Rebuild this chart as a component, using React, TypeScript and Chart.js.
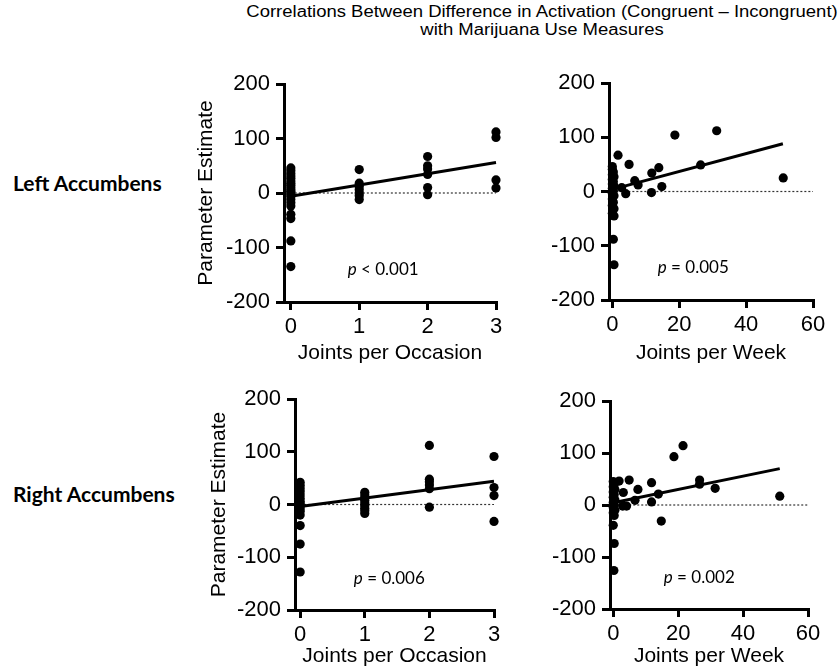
import React, { useEffect, useRef } from 'react';
import { Chart, registerables } from 'chart.js';

Chart.register(...registerables);

// ---------- data ----------
const yTicks = [-200, -100, 0, 100, 200];
const occasionTicks = [0, 1, 2, 3];
const weekTicks = [0, 20, 40, 60];

// Left Accumbens – Joints per Occasion
const leftOccX = [0, 0, 0, 0, 0, 0, 0, 0, 0, 0, 0, 0, 0, 0, 0, 0, 0, 0, 0, 0, 0,
  1, 1, 1, 1, 1, 1, 1,
  2, 2, 2, 2, 2, 2,
  3, 3, 3, 3];
const leftOccY = [46, 41, 36, 31, 27, 22, 18, 14, 10, 6, 3, 0, -3, -7, -12, -18, -24, -39, -47, -88, -135,
  43, 18, 12, 6, 0, -5, -12,
  67, 50, 44, 34, 10, -3,
  112, 102, 24, 9];
const leftOccLine = { x: [0, 3], y: [-6, 56] };

// Left Accumbens – Joints per Week
const leftWeekX = [0, 0, 0.3, 0, 0.5, 0, 0.3, 0, 0.5, 0, 0.3, 0, 0.5, 0, 0.3, 0, 0.5, 0, 0.5, 0.3, 0.5,
  1.7, 5, 2.8, 4, 6.7, 7.7, 11.8, 11.7, 13.9, 14.8, 18.7, 26.4, 31.2, 51.1];
const leftWeekY = [46, 41, 36, 31, 27, 22, 18, 14, 10, 6, 2, -3, -8, -14, -20, -26, -32, -40, -45, -88, -135,
  67, 50, 7, -4, 20, 12, 34, -2, 44, 9, 104, 49, 112, 25];
const leftWeekLine = { x: [0, 51], y: [4, 88] };

// Right Accumbens – Joints per Occasion
const rightOccX = [0, 0, 0, 0, 0, 0, 0, 0, 0, 0, 0, 0, 0, 0, 0,
  1, 1, 1, 1, 1, 1, 1, 1, 1,
  2, 2, 2, 2, 2, 2,
  3, 3, 3, 3];
const rightOccY = [42, 36, 30, 24, 18, 12, 6, 2, -3, -8, -13, -20, -40, -75, -128,
  23, 18, 13, 8, 3, -2, -7, -12, -17,
  112, 48, 43, 37, 30, -5,
  91, 32, 17, -32];
const rightOccLine = { x: [0, 3], y: [-4, 44] };

// Right Accumbens – Joints per Week
const rightWeekX = [0, 0.3, 0, 0.5, 0, 0.3, 0, 0.5, 0, 0.3, 0, 0.5, 0, 0.3, 0, 0.3, 0.2,
  1.8, 3.1, 2.9, 4.1, 4.9, 6.7, 7.6, 11.8, 11.8, 13.9, 14.8, 18.7, 21.5, 26.6, 26.6, 31.4, 51.3];
const rightWeekY = [45, 40, 35, 30, 25, 20, 15, 10, 5, 0, -5, -10, -15, -20, -39, -74, -126,
  46, 24, -2, -2, 48, 9, 30, 43, 6, 21, -31, 93, 114, 48, 40, 32, 17];
const rightWeekLine = { x: [0, 51.3], y: [4.5, 70] };

const pValues = ['< 0.001', '= 0.005', '= 0.006', '= 0.002'];
const pLabelY = -140;
const pLabelX = [1.35, 24.2, 1.38, 26.5];

const zeroOcc = { x: [0, 3], y: [0, 0] };
const zeroWeek = { x: [0, 60], y: [0, 0] };

// ---------- layout ----------
const AX_FONT = "'Liberation Sans', Arial, sans-serif";
const CAL_FONT = "Lato, 'Open Sans', sans-serif";

type Panel = {
  left: number; top: number; w: number; h: number;
  yW: number; xH: number; padTop: number; padRight: number;
  yTitle: boolean; yTitlePad: number; xTitle: string; xTitlePad: number;
  xMin: number; xMax: number; xTicks: number[];
  xs: number[]; ys: number[]; line: { x: number[]; y: number[] }; zero: { x: number[]; y: number[] };
  pText: string; pX: number;
};

const panels: Panel[] = [
  { left: 180, top: 60, w: 340, h: 310, yW: 104, xH: 68, padTop: 24, padRight: 24,
    yTitle: true, yTitlePad: 14, xTitle: 'Joints per Occasion', xTitlePad: 4,
    xMin: -0.1, xMax: 3, xTicks: occasionTicks, xs: leftOccX, ys: leftOccY, line: leftOccLine, zero: zeroOcc,
    pText: pValues[0], pX: pLabelX[0] },
  { left: 520, top: 60, w: 319, h: 310, yW: 89, xH: 70, padTop: 23, padRight: 26,
    yTitle: false, yTitlePad: 0, xTitle: 'Joints per Week', xTitlePad: 4,
    xMin: -1, xMax: 60, xTicks: weekTicks, xs: leftWeekX, ys: leftWeekY, line: leftWeekLine, zero: zeroWeek,
    pText: pValues[1], pX: pLabelX[1] },
  { left: 180, top: 370, w: 340, h: 301, yW: 115, xH: 61, padTop: 29, padRight: 26,
    yTitle: true, yTitlePad: 27, xTitle: 'Joints per Occasion', xTitlePad: 2,
    xMin: -0.08, xMax: 3, xTicks: occasionTicks, xs: rightOccX, ys: rightOccY, line: rightOccLine, zero: zeroOcc,
    pText: pValues[2], pX: pLabelX[2] },
  { left: 520, top: 370, w: 319, h: 301, yW: 90, xH: 62, padTop: 31, padRight: 31,
    yTitle: false, yTitlePad: 0, xTitle: 'Joints per Week', xTitlePad: 2,
    xMin: -1, xMax: 60, xTicks: weekTicks, xs: rightWeekX, ys: rightWeekY, line: rightWeekLine, zero: zeroWeek,
    pText: pValues[3], pX: pLabelX[3] },
];

const pLabelPlugin = {
  id: 'pLabel',
  afterDatasetsDraw(chart: any, _args: any, opts: any) {
    const { ctx, scales } = chart;
    const px = scales.x.getPixelForValue(opts.x);
    const py = scales.y.getPixelForValue(opts.y);
    ctx.save();
    ctx.fillStyle = '#000';
    ctx.textBaseline = 'middle';
    ctx.textAlign = 'left';
    const italic = `italic 17px ${CAL_FONT}`;
    const normal = `17px ${CAL_FONT}`;
    const rest = ' ' + opts.text;
    ctx.font = italic;
    const w1 = ctx.measureText('p').width;
    ctx.font = normal;
    const w2 = ctx.measureText(rest).width;
    const sx = px - (w1 + w2) / 2;
    ctx.font = italic;
    ctx.fillText('p', sx, py);
    ctx.font = normal;
    ctx.fillText(rest, sx + w1, py);
    ctx.restore();
  },
};

function toPts(xs: number[], ys: number[]) {
  return xs.map((x, i) => ({ x, y: ys[i] }));
}

function PanelChart({ p }: { p: Panel }) {
  const ref = useRef<HTMLCanvasElement>(null);
  useEffect(() => {
    if (!ref.current) return;
    const chart = new Chart(ref.current, {
      type: 'scatter',
      data: {
        datasets: [
          { data: toPts(p.line.x, p.line.y), showLine: true, borderColor: '#000', borderWidth: 3,
            pointRadius: 0, backgroundColor: '#000', clip: false } as any,
          { data: toPts(p.xs, p.ys), pointRadius: 4.6, pointBackgroundColor: '#000',
            pointBorderWidth: 0, backgroundColor: '#000', showLine: false, clip: false } as any,
          { data: toPts(p.zero.x, p.zero.y), showLine: true, borderColor: '#333', borderWidth: 1.2,
            borderDash: [2, 2], pointRadius: 0, clip: false } as any,
        ],
      },
      options: {
        animation: false,
        responsive: false,
        maintainAspectRatio: false,
        events: [],
        layout: { padding: { top: p.padTop, right: p.padRight, left: 0, bottom: 0 } },
        plugins: {
          legend: { display: false },
          tooltip: { enabled: false },
          pLabel: { x: p.pX, y: pLabelY, text: p.pText },
        } as any,
        scales: {
          x: {
            type: 'linear', min: p.xMin, max: p.xMax,
            afterBuildTicks: (s: any) => { s.ticks = p.xTicks.map((v) => ({ value: v })); },
            afterFit: (s: any) => { s.height = p.xH; },
            grid: { display: true, drawOnChartArea: false, drawTicks: true, tickLength: 8,
              tickWidth: 3, tickColor: '#000', color: '#000', lineWidth: 3 },
            border: { display: true, width: 3, color: '#000' },
            ticks: { color: '#000', font: { family: AX_FONT, size: 22 }, padding: 4,
              maxRotation: 0, autoSkip: false },
            title: { display: true, text: p.xTitle, color: '#000',
              font: { family: AX_FONT, size: 21 }, padding: { top: 0, bottom: p.xTitlePad } },
          },
          y: {
            type: 'linear', min: -200, max: 200,
            afterBuildTicks: (s: any) => { s.ticks = yTicks.map((v) => ({ value: v })); },
            afterFit: (s: any) => { s.width = p.yW; },
            grid: { display: true, drawOnChartArea: false, drawTicks: true, tickLength: 8,
              tickWidth: 3, tickColor: '#000', color: '#000', lineWidth: 3 },
            border: { display: true, width: 3, color: '#000' },
            ticks: { color: '#000', font: { family: AX_FONT, size: 22 }, padding: 6 },
            title: { display: p.yTitle, text: 'Parameter Estimate', color: '#000',
              font: { family: AX_FONT, size: 21 }, padding: { top: p.yTitlePad, bottom: 0 } },
          },
        },
      } as any,
      plugins: [pLabelPlugin as any],
    });
    return () => chart.destroy();
  }, [p]);
  return (
    <canvas
      ref={ref}
      width={p.w}
      height={p.h}
      style={{ position: 'absolute', left: p.left, top: p.top, width: p.w, height: p.h }}
    />
  );
}

export default function App() {
  return (
    <div style={{ position: 'absolute', left: 0, top: 0, width: 839, height: 671,
      background: '#fff', overflow: 'hidden' }}>
      <div style={{ position: 'absolute', left: 192, top: 3, width: 700, textAlign: 'center',
        fontFamily: AX_FONT, fontSize: 16, lineHeight: '18px', color: '#000', whiteSpace: 'nowrap',
        transform: 'scaleX(1.155)', transformOrigin: '50% 50%' }}>
        Correlations Between Difference in Activation (Congruent – Incongruent)<br />
        with Marijuana Use Measures
      </div>
      <div style={{ position: 'absolute', left: 13, top: 172, fontFamily: CAL_FONT, fontWeight: 700,
        fontSize: 21, lineHeight: '21px', color: '#000', whiteSpace: 'nowrap' }}>Left Accumbens</div>
      <div style={{ position: 'absolute', left: 13, top: 483, fontFamily: CAL_FONT, fontWeight: 700,
        fontSize: 21, lineHeight: '21px', color: '#000', whiteSpace: 'nowrap' }}>Right Accumbens</div>
      {panels.map((p, i) => <PanelChart key={i} p={p} />)}
    </div>
  );
}
